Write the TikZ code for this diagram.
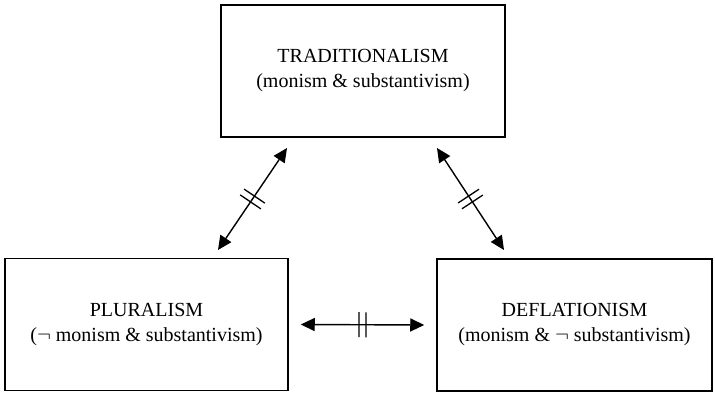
\documentclass[tikz,border=0pt]{standalone}
\usepackage{fontspec}
\setmainfont{Liberation Serif}
\usetikzlibrary{arrows.meta,decorations.markings}
\tikzset{
  box/.style={draw=black, line width=1.5pt, minimum width=#1, minimum height=132pt, inner sep=0pt,
    align=center, font=\fontsize{20}{25}\selectfont, text=black},
  box/.default=283pt,
  tip/.tip={Triangle[length=14pt,width=13pt]},
  rel/.style={line width=1.4pt, tip-tip,
    postaction={decorate, decoration={markings, mark=at position 0.5 with {
      \draw[line width=1.3pt, arrows=-] (-3.5pt,-12.5pt) -- (-3.5pt,12.5pt) (3.5pt,-12.5pt) -- (3.5pt,12.5pt);}}}},
}
\begin{document}
\begin{tikzpicture}[x=1pt,y=-1pt]
\useasboundingbox (0,0) rectangle (715,393);
\node[box=284pt] (trad) at (363,71) {TRADITIONALISM\\(monism \& substantivism)};
\node[box=283pt] (plur) at (146.5,324.5) {PLURALISM\\($\neg$ monism \& substantivism)};
\node[box=275pt] (defl) at (574.5,325) {DEFLATIONISM\\(monism \& $\neg$ substantivism)};
\coordinate (a1) at (287,148);
\coordinate (a2) at (218,250);
\coordinate (b1) at (437,148);
\coordinate (b2) at (504,250);
\draw[rel] (a2) -- (a1);
\draw[rel] (b1) -- (b2);
\draw[rel] ([xshift=12pt]plur.east) -- ([xshift=-12pt]defl.west);
\end{tikzpicture}
\end{document}
